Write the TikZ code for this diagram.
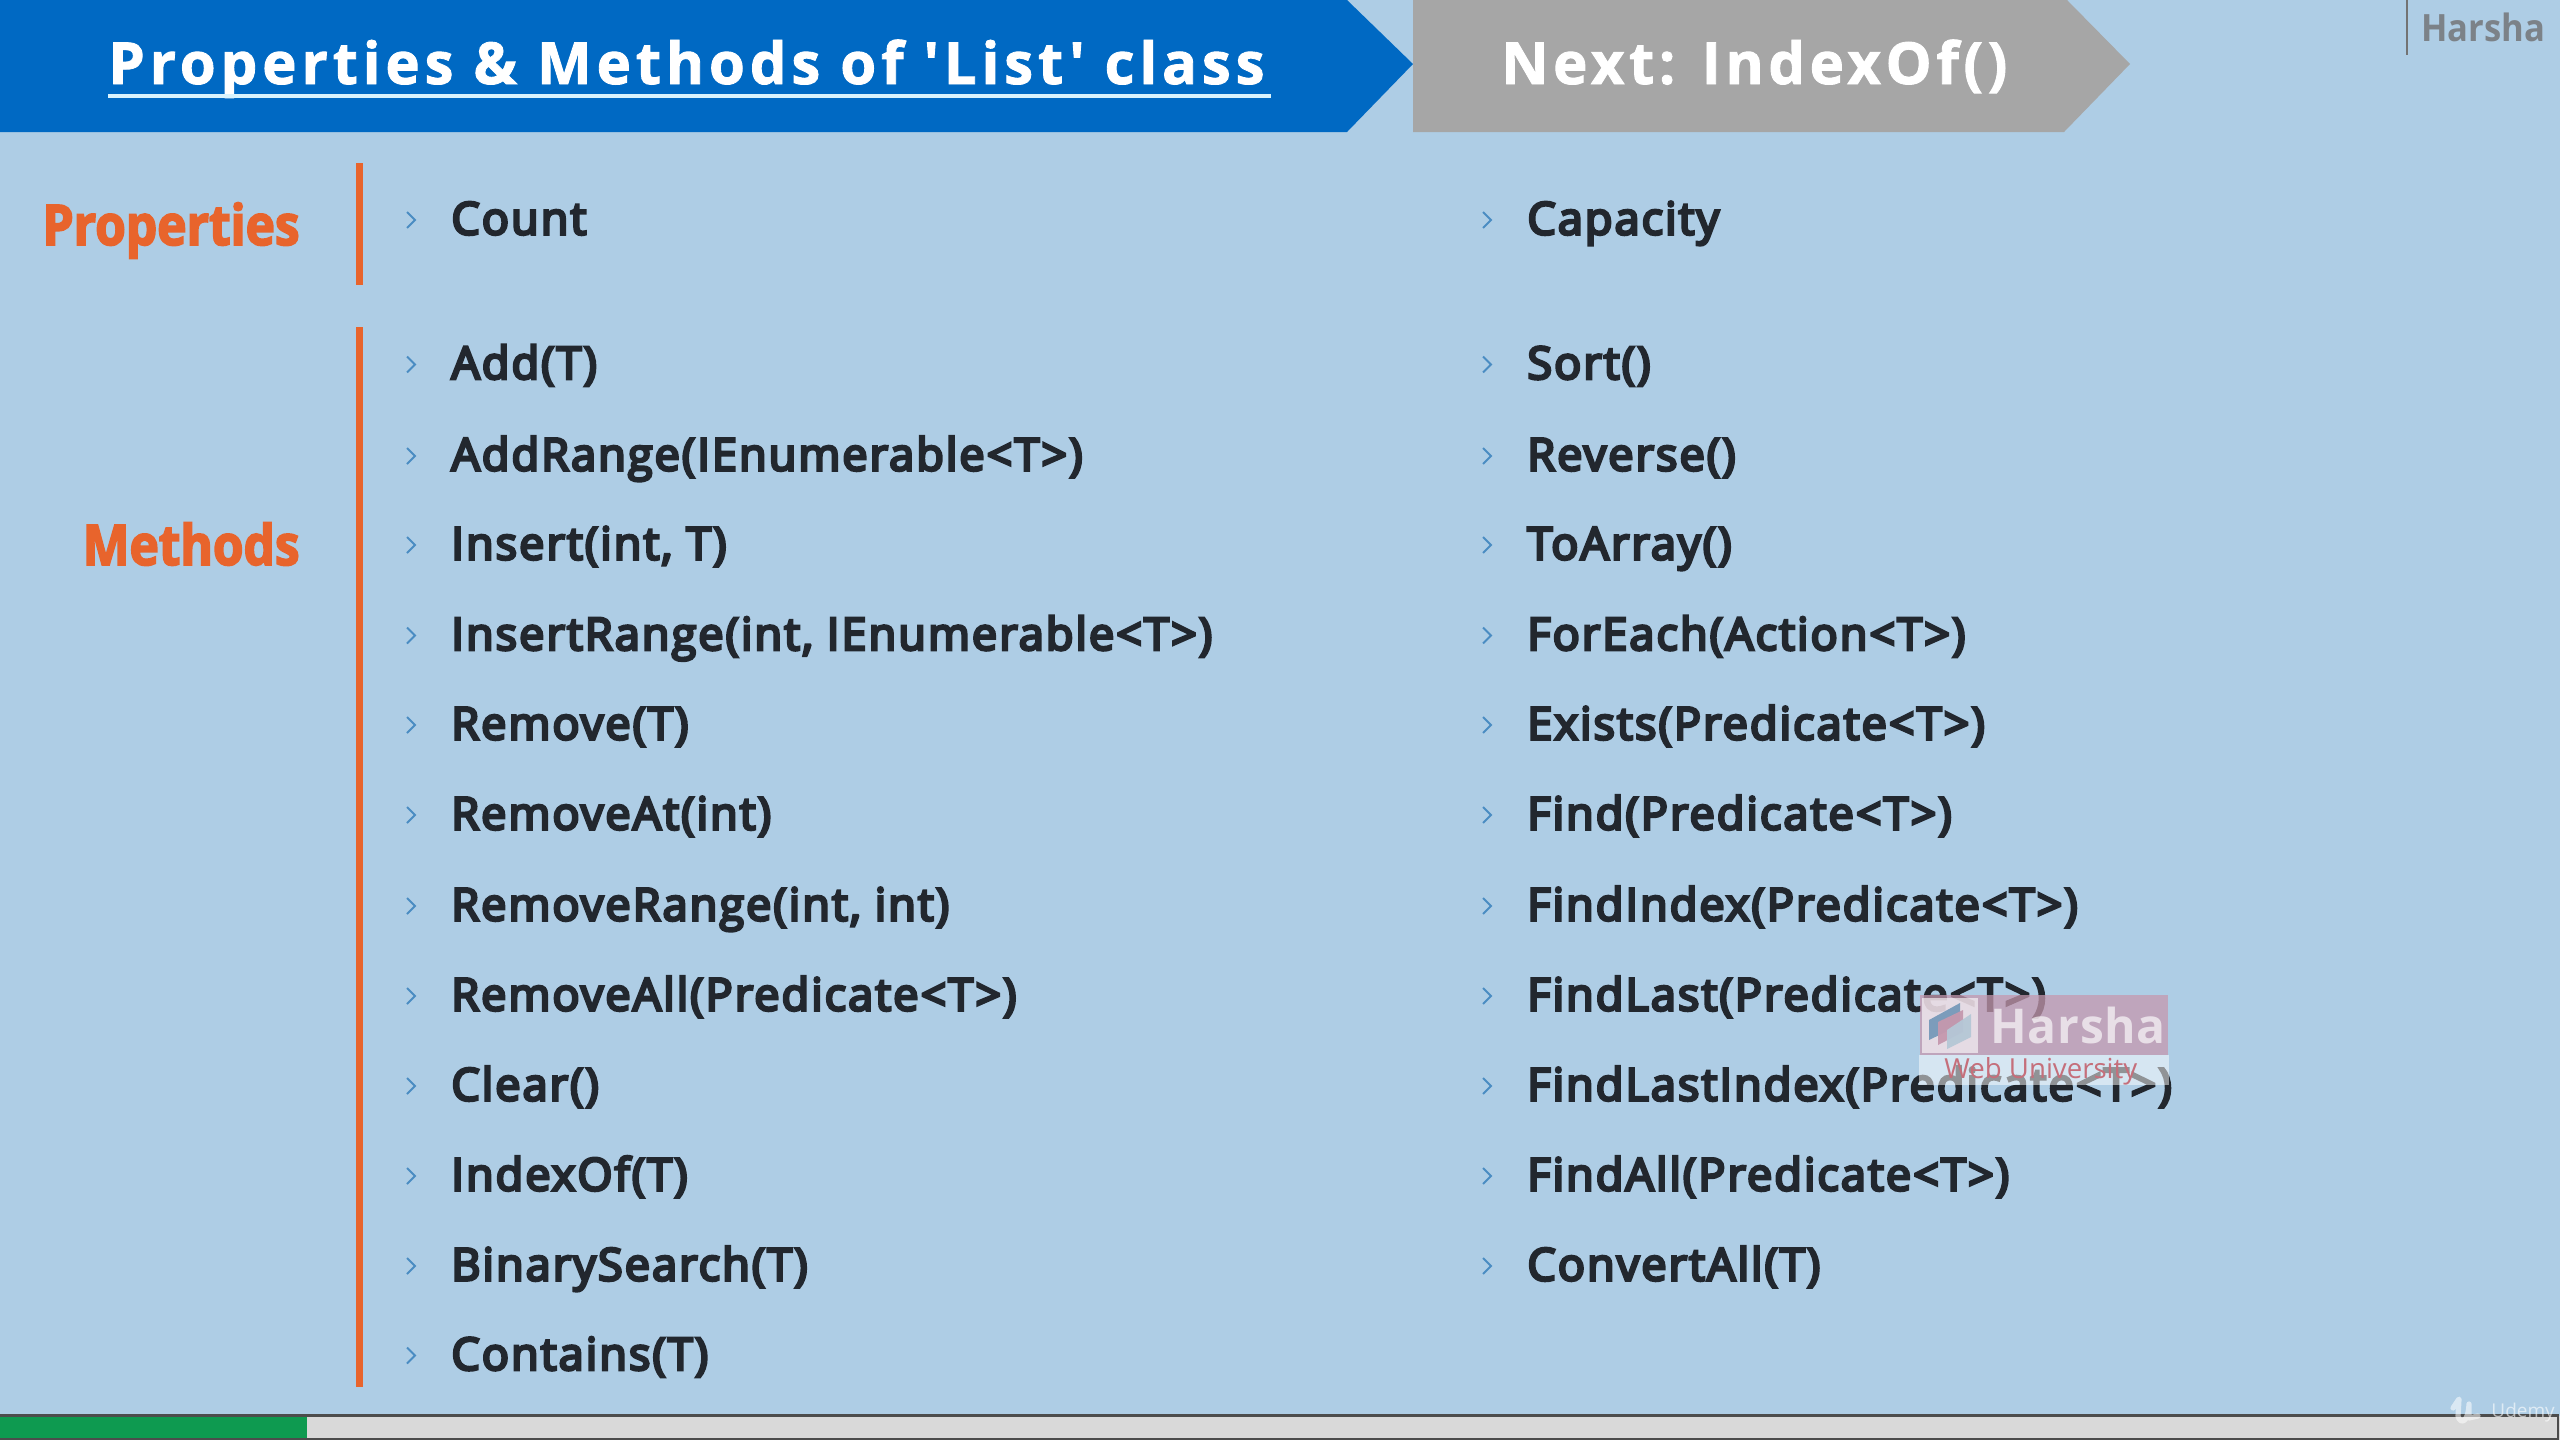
\documentclass[tikz,border=0pt]{standalone}
\usepackage{fontspec}
\setmainfont{Open Sans}
\newfontfamily\itemfont[FakeBold=6,LetterSpace=4.6]{Open Sans}
\newfontfamily\titlefont[FakeBold=1.5,LetterSpace=8.5]{Open Sans Bold}
\newfontfamily\nextfont[FakeBold=1.5,LetterSpace=8]{Open Sans Bold}
\newfontfamily\headfont[FakeStretch=0.885,FakeBold=3]{Open Sans Bold}
\newfontfamily\tagfont[FakeStretch=0.92]{Open Sans Bold}
\newfontfamily\markfont[LetterSpace=1.5]{Open Sans Bold}
\definecolor{bgblue}{HTML}{AECDE5}
\definecolor{barblue}{HTML}{0069C3}
\definecolor{bargray}{HTML}{A6A6A6}
\definecolor{accent}{HTML}{E8642C}
\definecolor{ink}{HTML}{22272E}
\definecolor{chev}{HTML}{4A8CC2}
\definecolor{markred}{RGB}{197,152,174}
\definecolor{progress}{HTML}{0E9A50}
\definecolor{tagink}{HTML}{7C8288}
\tikzset{
  x=0.5pt,y=-0.5pt,
  itemtext/.style={anchor=base west,inner sep=0pt,text=ink,font=\itemfont\fontsize{22.5}{26}\selectfont},
  titletext/.style={anchor=base west,inner sep=0pt,text=white,font=\titlefont\fontsize{29}{34}\selectfont},
  headtext/.style={anchor=base east,inner sep=0pt,text=accent,font=\headfont\fontsize{28}{32}\selectfont},
  sidebar/.style={draw=accent,line width=3.3pt},
  chevron/.style={draw=chev,line width=1pt,line join=miter},
}
\newcommand{\chevat}[2]{\draw[chevron] (#1-4,#2-6) -- (#1+4,#2+2) -- (#1-4,#2+10);}
\newcommand{\lefthalf}[3]{\chevat{411}{#1}\node[itemtext] (#2) at (451,#1+16.5) {#3};}
\newcommand{\righthalf}[3]{\chevat{1487}{#1}\node[itemtext] (#2) at (1527,#1+16.5) {#3};}
\begin{document}
\begin{tikzpicture}
\useasboundingbox (0,0) rectangle (2560,1440);
\fill[bgblue] (0,0) rectangle (2560,1440);
% header arrows
\fill[barblue] (0,0) -- (1347,0) -- (1413,64) -- (1347,132) -- (0,132) -- cycle;
\fill[bargray] (1413,0) -- (2067,0) -- (2130,64) -- (2064,132) -- (1413,132) -- cycle;
\node[titletext] (title) at (108,84) {Properties \& Methods of 'List' class};
\draw[white!85!cyan,line width=1.7pt] (108,96) -- (1271,96);
\node[titletext,font=\nextfont\fontsize{29}{34}\selectfont] (next) at (1501,84) {Next: IndexOf()};
% author tag
\draw[gray!90!black,line width=0.8pt] (2407,0) -- (2407,55);
\node[anchor=base west,inner sep=0pt,text=tagink,font=\tagfont\fontsize{18.8}{22}\selectfont] (author) at (2421,41) {Harsha};
% section labels
\node[headtext] (props) at (300,245) {Properties};
\node[headtext] (meths) at (300,565) {Methods};
\draw[sidebar] (359.5,163) -- (359.5,285);
\draw[sidebar] (359.5,327) -- (359.5,1387);
% left column
\lefthalf{218}{a0}{Count}
\lefthalf{362.5}{a1}{Add(T)}
\lefthalf{454}{a2}{AddRange(IEnumerable<T>)}
\lefthalf{543}{a3}{Insert(int, T)}
\lefthalf{633.5}{a4}{InsertRange(int, IEnumerable<T>)}
\lefthalf{723}{a5}{Remove(T)}
\lefthalf{813}{a6}{RemoveAt(int)}
\lefthalf{904}{a7}{RemoveRange(int, int)}
\lefthalf{994}{a8}{RemoveAll(Predicate<T>)}
\lefthalf{1084}{a9}{Clear()}
\lefthalf{1174}{a10}{IndexOf(T)}
\lefthalf{1264}{a11}{BinarySearch(T)}
\lefthalf{1353.5}{a12}{Contains(T)}
% right column
\righthalf{218}{b0}{Capacity}
\righthalf{362.5}{b1}{Sort()}
\righthalf{454}{b2}{Reverse()}
\righthalf{543}{b3}{ToArray()}
\righthalf{633.5}{b4}{ForEach(Action<T>)}
\righthalf{723}{b5}{Exists(Predicate<T>)}
\righthalf{813}{b6}{Find(Predicate<T>)}
\righthalf{904}{b7}{FindIndex(Predicate<T>)}
\righthalf{994}{b8}{FindLast(Predicate<T>)}
\righthalf{1084}{b9}{FindLastIndex(Predicate<T>)}
\righthalf{1174}{b10}{FindAll(Predicate<T>)}
\righthalf{1264}{b11}{ConvertAll(T)}
% watermark
\fill[markred,opacity=0.74] (1920,995) rectangle (2168,1055);
\fill[white,opacity=0.5] (1919,1055) rectangle (2169,1085);
\fill[white,opacity=0.6] (1922,998) rectangle (1978,1053);
\fill[chev!70!gray,opacity=0.75] (1929,1020) -- (1960,1003) -- (1960,1025) -- (1929,1040) -- cycle;
\fill[markred,opacity=0.95] (1938,1022) -- (1963,1010) -- (1963,1032) -- (1938,1045) -- cycle;
\fill[bgblue!75!gray!80,opacity=0.95] (1947,1030) -- (1971,1014) -- (1971,1037) -- (1947,1049) -- cycle;
\node[anchor=base west,inner sep=0pt,text=white,opacity=0.65,font=\markfont\fontsize{24}{26}\selectfont] (markname) at (1990,1043) {Harsha};
\node[anchor=base west,inner sep=0pt,text=markred!70!red!80!gray,font=\fontsize{13.8}{15}\selectfont] (marksub) at (1944,1078) {Web University};
% progress bar
\fill[gray!30] (0,1416) rectangle (2560,1440);
\fill[progress] (0,1416) rectangle (307,1440);
\draw[gray!60!black,line width=1.2pt] (0,1415.5) -- (2558,1415.5) -- (2558,1439) -- (0,1439);
% udemy mark
\draw[white,opacity=0.55,line width=2.6pt,line cap=round,line join=round] (2453,1408) -- (2459,1399) -- (2458,1416) .. controls (2460,1424) and (2468,1424) .. (2469,1404) -- (2469,1418) -- (2478,1416);
\node[anchor=base west,inner sep=0pt,text=white,opacity=0.6,font=\fontsize{9.5}{11}\selectfont] (udemy) at (2491,1417) {Udemy};
\end{tikzpicture}
\end{document}
